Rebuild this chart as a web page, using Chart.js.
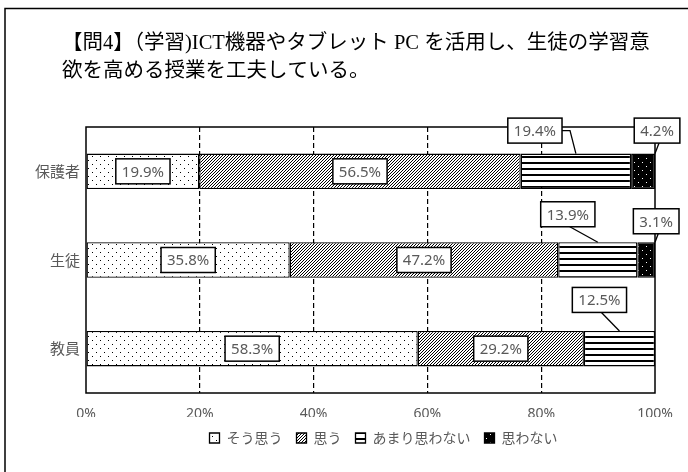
<!DOCTYPE html>
<html><head><meta charset="utf-8">
<script src="https://cdn.jsdelivr.net/npm/chart.js@4.4.1/dist/chart.umd.min.js"></script>
<style>html,body{margin:0;padding:0;background:#fff;}#wrap{position:relative;width:688px;height:472px;}canvas{display:block}</style>
</head><body><div id="wrap"><canvas id="c" width="688" height="472"></canvas></div>
<script>
// ---- data ----
const titleLines = ['【問4】（学習)ICT機器やタブレット PC を活用し、生徒の学習意', '欲を高める授業を工夫している。'];
const categories = ['保護者', '生徒', '教員'];
const seriesNames = ['そう思う', '思う', 'あまり思わない', '思わない'];
const soOmou = [19.9, 35.8, 58.3];
const omou = [56.5, 47.2, 29.2];
const amariOmowanai = [19.4, 13.9, 12.5];
const omowanai = [4.2, 3.1, 0];
const xTickValues = [0, 20, 40, 60, 80, 100];

// ---- styles ----
const GRAY = '#595959';
const JP = '"Noto Sans CJK JP", "Noto Sans", sans-serif';
const NUM = '"Noto Sans", "Open Sans", sans-serif';
// placement of outside labels (series index 2 and 3): offsets relative to segment centre / bar top
const outsideLabelStyle = {
  '2-0': {dx: -41, dy: -23, leader: 'side', to: 'center'},
  '3-0': {dx: 14, dy: -23, leader: 'bottom', to: 'end'},
  '2-1': {dx: -30, dy: -28, leader: 'bottom', to: 'center'},
  '3-1': {dx: 10, dy: -21, leader: 'bottom', to: 'end'},
  '2-2': {dx: -20, dy: -31, leader: 'bottom', to: 'center'}
};
const LEGEND_SHIFT_X = 56;

const canvas = document.getElementById('c');
const mainCtx = canvas.getContext('2d');
function makePattern(w, h, draw) {
  const t = document.createElement('canvas'); t.width = w; t.height = h;
  const g = t.getContext('2d'); draw(g);
  return mainCtx.createPattern(t, 'repeat');
}
const patDots = makePattern(8, 8, g => { g.fillStyle = '#fff'; g.fillRect(0,0,8,8); g.fillStyle = '#000'; g.fillRect(0,0,1,1); g.fillRect(4,4,1,1); });
const patHatch = makePattern(3, 3, g => { g.fillStyle = '#fff'; g.fillRect(0,0,3,3); g.fillStyle = '#000'; g.fillRect(2,0,1,1); g.fillRect(1,1,1,1); g.fillRect(0,2,1,1); });
const patStripes = makePattern(8, 6, g => { g.fillStyle = '#fff'; g.fillRect(0,0,8,6); g.fillStyle = '#000'; g.fillRect(0,0,8,2); });
const patBlackDots = makePattern(8, 8, g => { g.fillStyle = '#000'; g.fillRect(0,0,8,8); g.fillStyle = '#fff'; g.fillRect(2,2,1,1); g.fillRect(6,6,1,1); });
const fills = [patDots, patHatch, patStripes, patBlackDots];
const seriesValues = [soOmou, omou, amariOmowanai, omowanai];

const frameAndTitle = {
  id: 'frameAndTitle',
  afterLayout(chart) {
    if (chart.legend) { chart.legend.left += LEGEND_SHIFT_X; chart.legend.right += LEGEND_SHIFT_X; }
  },
  beforeDraw(chart) {
    const c = chart.ctx;
    c.save();
    c.fillStyle = '#fff'; c.fillRect(0, 0, chart.width, chart.height);
    c.strokeStyle = '#000'; c.lineWidth = 1.5;
    c.strokeRect(5, 8.5, chart.width + 10, chart.height + 10);
    c.fillStyle = '#000';
    c.font = '20.5px "Liberation Serif", "Noto Sans CJK JP", serif';
    c.textBaseline = 'middle'; c.textAlign = 'left';
    c.fillText(titleLines[0], 62, 44);
    c.fillText(titleLines[1], 62, 72);
    c.restore();
  }
};

const plotFrameAndLabels = {
  id: 'plotFrameAndLabels',
  afterDatasetsDraw(chart) {
    const c = chart.ctx, a = chart.chartArea;
    c.save();
    c.strokeStyle = '#000'; c.lineWidth = 1.5;
    c.strokeRect(a.left, a.top, a.right - a.left, a.bottom - a.top);
    c.font = '15px ' + NUM;
    c.textAlign = 'center'; c.textBaseline = 'middle';
    chart.data.datasets.forEach((ds, i) => {
      const meta = chart.getDatasetMeta(i);
      ds.data.forEach((v, j) => {
        if (!v) return;
        const el = meta.data[j];
        const left = Math.min(el.x, el.base), right = Math.max(el.x, el.base);
        const cx = (left + right) / 2;
        const top = el.y - el.height / 2;
        const text = v.toFixed(1) + '%';
        const tw = c.measureText(text).width;
        const bw = tw + 12, bh = 25;
        let bx, by;
        const st = outsideLabelStyle[i + '-' + j];
        if (st) {
          bx = cx + st.dx; by = top + st.dy;
          const ax = st.to === 'end' ? right : cx;
          c.beginPath();
          c.lineWidth = 1.3;
          if (st.leader === 'side') {
            c.moveTo(bx + bw / 2, by); c.lineTo(bx + bw / 2 + 8, by); c.lineTo(ax, top);
          } else {
            c.moveTo(bx + 2, by + bh / 2); c.lineTo(ax, top);
          }
          c.stroke();
        } else {
          bx = cx; by = el.y;
        }
        c.fillStyle = '#fff';
        c.fillRect(bx - bw / 2, by - bh / 2, bw, bh);
        c.lineWidth = 1.5; c.strokeStyle = '#000';
        c.strokeRect(bx - bw / 2, by - bh / 2, bw, bh);
        c.fillStyle = GRAY;
        c.fillText(text, bx, by + 1);
      });
    });
    c.restore();
  }
};

new Chart(canvas, {
  type: 'bar',
  data: {
    labels: categories,
    datasets: seriesNames.map((n, i) => ({
      label: n,
      data: seriesValues[i],
      backgroundColor: fills[i],
      borderColor: '#000',
      borderWidth: 1.3,
      borderSkipped: false,
      barPercentage: 0.4,
      categoryPercentage: 1
    }))
  },
  options: {
    indexAxis: 'y',
    responsive: false,
    animation: false,
    devicePixelRatio: 1,
    layout: {padding: {left: 0, right: 33, top: 127, bottom: 17}},
    scales: {
      x: {
        stacked: true, min: 0, max: 100,
        afterBuildTicks(s) { s.ticks = xTickValues.map(v => ({value: v})); },
        afterFit(s) { s.height = 24; },
        ticks: {callback: v => v + '%', color: GRAY, font: {family: NUM, size: 14}, padding: 13, maxRotation: 0},
        grid: {color: ctx => (ctx.tick && (ctx.tick.value === 0 || ctx.tick.value === 100)) ? 'rgba(0,0,0,0)' : '#000', lineWidth: 1.2, drawTicks: false},
        border: {display: false, dash: [5, 3]}
      },
      y: {
        stacked: true,
        afterFit(s) { s.width = 86; },
        ticks: {color: GRAY, font: {family: JP, size: 15}, padding: 6},
        grid: {display: false, drawTicks: false},
        border: {display: false}
      }
    },
    plugins: {
      legend: {
        position: 'bottom',
        labels: {boxWidth: 10, boxHeight: 10, padding: 14, color: GRAY, font: {family: JP, size: 14}}
      },
      tooltip: {enabled: false}
    }
  },
  plugins: [frameAndTitle, plotFrameAndLabels]
});
</script></body></html>
